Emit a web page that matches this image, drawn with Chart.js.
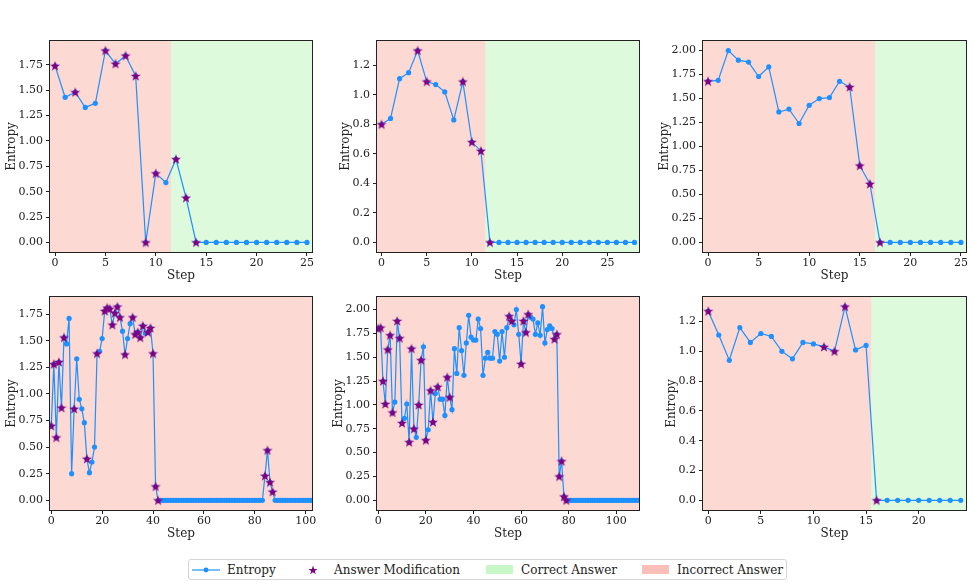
<!DOCTYPE html>
<html>
<head>
<meta charset="utf-8">
<script src="https://cdn.jsdelivr.net/npm/chart.js@4.4.0/dist/chart.umd.min.js"></script>
<style>
  body { margin: 0; background: #fff; width: 973px; height: 588px; position: relative; overflow: hidden; font-family: 'DejaVu Serif', serif; }
  canvas.panel { position: absolute; }
  #legend { position: absolute; left: 188px; top: 559px; width: 599px; height: 21px; border: 1px solid #d5d5d5; border-radius: 3px; box-sizing: border-box; }
  #legend span { position: absolute; top: 1px; line-height: 18px; font-size: 12px; color: #222; white-space: nowrap; }
  #legend canvas, #legend div { position: absolute; }
</style>
</head>
<body>
<canvas class="panel" id="c1"></canvas>
<canvas class="panel" id="c2"></canvas>
<canvas class="panel" id="c3"></canvas>
<canvas class="panel" id="c4"></canvas>
<canvas class="panel" id="c5"></canvas>
<canvas class="panel" id="c6"></canvas>

<div id="legend">
  <canvas id="lgLine" width="28" height="10" style="left:3px;top:5px"></canvas>
  <span style="left:38px">Entropy</span>
  <canvas id="lgStar" width="12" height="12" style="left:118px;top:4px"></canvas>
  <span style="left:145px">Answer Modification</span>
  <div style="left:297px;top:5px;width:27px;height:9px;background:rgba(144,238,144,0.5)"></div>
  <span style="left:332px">Correct Answer</span>
  <div style="left:453px;top:5px;width:27px;height:9px;background:rgba(250,128,114,0.5)"></div>
  <span style="left:488px">Incorrect Answer</span>
</div>

<script>
// entropy per step, one array per run
const entropy1 = [1.74, 1.43, 1.48, 1.33, 1.37, 1.89, 1.76, 1.84, 1.64, 0.00,
                  0.68, 0.59, 0.82, 0.44, 0.00, 0.00, 0.00, 0.00, 0.00, 0.00,
                  0.00, 0.00, 0.00, 0.00, 0.00, 0.00];
const entropy2 = [0.80, 0.84, 1.11, 1.15, 1.30, 1.09, 1.07, 1.02, 0.83, 1.09,
                  0.68, 0.62, 0.00, 0.00, 0.00, 0.00, 0.00, 0.00, 0.00, 0.00,
                  0.00, 0.00, 0.00, 0.00, 0.00, 0.00, 0.00, 0.00, 0.00];
const entropy3 = [1.68, 1.69, 2.00, 1.90, 1.88, 1.73, 1.83, 1.36, 1.39, 1.24,
                  1.43, 1.50, 1.51, 1.68, 1.62, 0.80, 0.61, 0.00, 0.00, 0.00,
                  0.00, 0.00, 0.00, 0.00, 0.00, 0.00];
const entropy4 = [0.70, 1.28, 0.59, 1.30, 0.87, 1.53, 1.47, 1.71, 0.25, 0.86,
                  1.33, 0.95, 0.86, 0.73, 0.39, 0.26, 0.36, 0.50, 1.38, 1.40,
                  1.52, 1.78, 1.81, 1.80, 1.65, 1.76, 1.82, 1.72, 1.59, 1.37,
                  1.52, 1.66, 1.72, 1.56, 1.58, 1.53, 1.64, 1.57, 1.58, 1.62,
                  1.38, 0.13, 0.00, 0.00, 0.00, 0.00, 0.00, 0.00, 0.00, 0.00,
                  0.00, 0.00, 0.00, 0.00, 0.00, 0.00, 0.00, 0.00, 0.00, 0.00,
                  0.00, 0.00, 0.00, 0.00, 0.00, 0.00, 0.00, 0.00, 0.00, 0.00,
                  0.00, 0.00, 0.00, 0.00, 0.00, 0.00, 0.00, 0.00, 0.00, 0.00,
                  0.00, 0.00, 0.00, 0.00, 0.23, 0.47, 0.17, 0.08, 0.00, 0.00,
                  0.00, 0.00, 0.00, 0.00, 0.00, 0.00, 0.00, 0.00, 0.00, 0.00,
                  0.00, 0.00, 0.00];
const entropy5 = [1.80, 1.81, 1.25, 1.01, 1.58, 1.73, 0.92, 1.03, 1.88, 1.70,
                  0.81, 0.86, 1.01, 0.61, 1.59, 0.75, 0.66, 1.00, 1.47, 1.61,
                  0.63, 0.74, 1.15, 0.82, 1.12, 1.19, 1.06, 1.06, 0.89, 1.29,
                  1.08, 0.95, 1.59, 1.33, 1.81, 1.57, 1.31, 1.65, 1.94, 1.71,
                  1.68, 1.68, 1.90, 1.80, 1.31, 1.49, 1.55, 1.49, 1.49, 1.77,
                  1.74, 1.46, 1.77, 1.50, 1.81, 1.93, 1.88, 1.84, 2.00, 1.74,
                  1.43, 1.88, 1.76, 1.95, 1.92, 1.90, 1.74, 1.86, 1.73, 2.03,
                  1.65, 1.79, 1.83, 1.80, 1.69, 1.74, 0.25, 0.41, 0.04, 0.00,
                  0.00, 0.00, 0.00, 0.00, 0.00, 0.00, 0.00, 0.00, 0.00, 0.00,
                  0.00, 0.00, 0.00, 0.00, 0.00, 0.00, 0.00, 0.00, 0.00, 0.00,
                  0.00, 0.00, 0.00, 0.00, 0.00, 0.00, 0.00, 0.00, 0.00, 0.00];
const entropy6 = [1.27, 1.11, 0.94, 1.16, 1.06, 1.12, 1.10, 1.00, 0.95, 1.06,
                  1.05, 1.03, 1.00, 1.30, 1.01, 1.04, 0.00, 0.00, 0.00, 0.00,
                  0.00, 0.00, 0.00, 0.00, 0.00];

// steps where the answer was modified
const mods1 = [0, 2, 5, 6, 7, 8, 9, 10, 12, 13, 14];
const mods2 = [0, 4, 5, 9, 10, 11, 12];
const mods3 = [0, 14, 15, 16, 17];
const mods4 = [0, 1, 2, 3, 4, 5, 9, 14, 18, 21, 22, 23, 24, 25, 26, 27, 29, 32, 33, 34, 35, 36, 38, 39, 40, 41, 42, 84, 85, 86, 87];
const mods5 = [0, 1, 2, 3, 4, 5, 6, 8, 9, 10, 13, 14, 15, 17, 18, 20, 22, 23, 25, 29, 30, 55, 56, 60, 61, 62, 63, 74, 75, 76, 77, 78, 79];
const mods6 = [0, 11, 12, 13, 16];

// step where the answer becomes correct (null = never)
const correctFrom = [11.5, 11.5, 16.5, null, null, 15.5];

// tick labels
const xTicksShort = ['0', '5', '10', '15', '20', '25'];
const xTicksShort6 = ['0', '5', '10', '15', '20'];
const xTicksLong = ['0', '20', '40', '60', '80', '100'];
const yTicks175 = ['0.00', '0.25', '0.50', '0.75', '1.00', '1.25', '1.50', '1.75'];
const yTicks200 = ['0.00', '0.25', '0.50', '0.75', '1.00', '1.25', '1.50', '1.75', '2.00'];
const yTicks12 = ['0.0', '0.2', '0.4', '0.6', '0.8', '1.0', '1.2'];

const runs = [
  { entropy: entropy1, mods: mods1, xTicks: xTicksShort, yTicks: yTicks175 },
  { entropy: entropy2, mods: mods2, xTicks: xTicksShort, yTicks: yTicks12 },
  { entropy: entropy3, mods: mods3, xTicks: xTicksShort, yTicks: yTicks200 },
  { entropy: entropy4, mods: mods4, xTicks: xTicksLong, yTicks: yTicks175 },
  { entropy: entropy5, mods: mods5, xTicks: xTicksLong, yTicks: yTicks200 },
  { entropy: entropy6, mods: mods6, xTicks: xTicksShort6, yTicks: yTicks12 }
];

// plot area boxes on the page: left, top, right, bottom, y axis width
const boxes = [
  [50, 41, 312, 252, 50], [377, 41, 639, 252, 43], [703, 41, 966, 252, 50],
  [50, 297, 312, 510, 50], [377, 297, 639, 510, 50], [703, 297, 966, 510, 43]
];

const FONT = 'DejaVu Serif';
const BLUE = '#1E90FF';
const PURPLE = '#800080';

function makeStar(size, R, color) {
  const c = document.createElement('canvas');
  c.width = size; c.height = size;
  const g = c.getContext('2d');
  const cx = size / 2, cy = size / 2 + 0.4, r = R * 0.39;
  g.beginPath();
  for (let i = 0; i < 10; i++) {
    const a = -Math.PI / 2 + i * Math.PI / 5;
    const rad = i % 2 === 0 ? R : r;
    g.lineTo(cx + rad * Math.cos(a), cy + rad * Math.sin(a));
  }
  g.closePath();
  g.fillStyle = color;
  g.fill();
  return c;
}

const starImg = makeStar(12, 5.4, PURPLE);

const shadePlugin = {
  id: 'shade',
  beforeDatasetsDraw(chart, args, opts) {
    const { ctx, chartArea: a, scales: { x } } = chart;
    const split = opts.correctFrom == null ? a.right : x.getPixelForValue(opts.correctFrom);
    ctx.save();
    ctx.fillStyle = 'rgba(250,128,114,0.3)';
    ctx.fillRect(a.left, a.top, split - a.left, a.bottom - a.top);
    if (split < a.right) {
      ctx.fillStyle = 'rgba(144,238,144,0.3)';
      ctx.fillRect(split, a.top, a.right - split, a.bottom - a.top);
    }
    ctx.restore();
  },
  afterDraw(chart) {
    const { ctx, chartArea: a } = chart;
    ctx.save();
    ctx.strokeStyle = '#222';
    ctx.lineWidth = 1;
    ctx.strokeRect(Math.round(a.left) - 0.5, Math.round(a.top) - 0.5, Math.round(a.right - a.left) + 1, Math.round(a.bottom - a.top) + 1);
    ctx.restore();
  }
};

runs.forEach((run, i) => {
  const [L, T, R, B, yw] = boxes[i];
  const padTop = 6, padRight = 8, xh = 35;
  const canvas = document.getElementById('c' + (i + 1));
  canvas.width = (R - L) + yw + padRight;
  canvas.height = (B - T) + padTop + xh;
  canvas.style.left = (L - yw) + 'px';
  canvas.style.top = (T - padTop) + 'px';

  const pts = run.entropy.map((v, s) => ({ x: s, y: v }));
  const starPts = run.mods.map(s => ({ x: s, y: run.entropy[s] }));
  const ymax = Math.max(...run.entropy);
  const xVals = run.xTicks.map(Number);
  const yVals = run.yTicks.map(Number);

  new Chart(canvas, {
    type: 'line',
    data: {
      datasets: [
        { label: 'Answer Modification', data: starPts, showLine: false, pointStyle: starImg, order: 0 },
        { label: 'Entropy', data: pts, borderColor: BLUE, backgroundColor: BLUE, borderWidth: 1.2,
          pointRadius: 2.6, pointBorderWidth: 0, pointBackgroundColor: BLUE, tension: 0, order: 1 }
      ]
    },
    options: {
      responsive: false,
      animation: false,
      events: [],
      layout: { padding: { top: padTop, right: padRight, left: 0, bottom: 0 } },
      plugins: {
        legend: { display: false },
        tooltip: { enabled: false },
        shade: { correctFrom: correctFrom[i] }
      },
      scales: {
        x: {
          type: 'linear',
          min: -0.5,
          max: run.entropy.length - 0.5,
          afterBuildTicks: s => { s.ticks = xVals.map(v => ({ value: v })); },
          afterFit: s => { s.height = xh; s.paddingLeft = 0; s.paddingRight = 0; },
          ticks: { autoSkip: false, maxRotation: 0, padding: 1, color: '#222', font: { family: FONT, size: 11 },
                   callback: (v, k) => run.xTicks[k] },
          grid: { drawOnChartArea: false, tickLength: 4, color: '#222' },
          border: { display: false },
          title: { display: true, text: 'Step', color: '#222', font: { family: FONT, size: 12 }, padding: { top: 0, bottom: 4 } }
        },
        y: {
          min: -0.05 * ymax,
          max: 1.05 * ymax,
          afterBuildTicks: s => { s.ticks = yVals.map(v => ({ value: v })); },
          afterFit: s => { s.width = yw; s.paddingTop = 0; s.paddingBottom = 0; },
          ticks: { autoSkip: false, padding: 3, color: '#222', font: { family: FONT, size: 11 },
                   callback: (v, k) => run.yTicks[k] },
          grid: { drawOnChartArea: false, tickLength: 4, color: '#222' },
          border: { display: false },
          title: { display: true, text: 'Entropy', color: '#222', font: { family: FONT, size: 12 }, padding: { top: 5, bottom: 0 } }
        }
      }
    },
    plugins: [shadePlugin]
  });
});

// legend icons
const lg = document.getElementById('lgLine').getContext('2d');
lg.strokeStyle = BLUE; lg.lineWidth = 1.2;
lg.beginPath(); lg.moveTo(0, 5); lg.lineTo(28, 5); lg.stroke();
lg.fillStyle = BLUE; lg.beginPath(); lg.arc(14, 5, 2.4, 0, Math.PI * 2); lg.fill();
document.getElementById('lgStar').getContext('2d').drawImage(makeStar(12, 4.8, PURPLE), 0, 0);
</script>
</body>
</html>
